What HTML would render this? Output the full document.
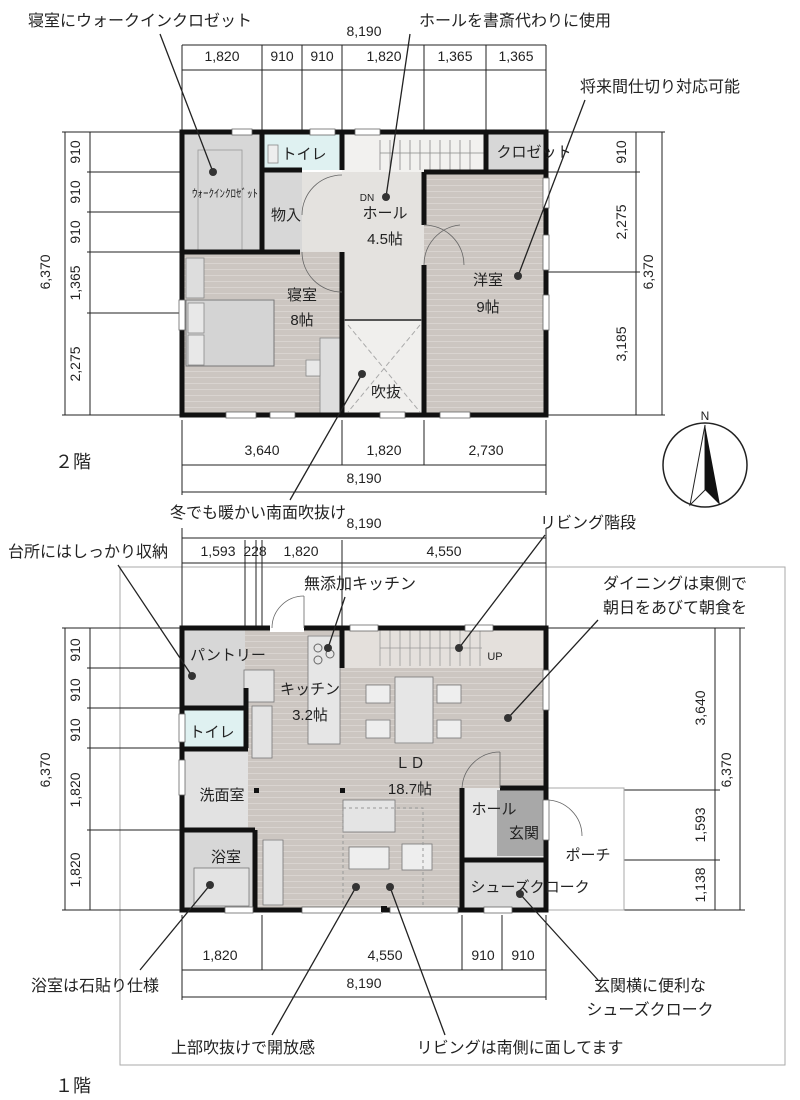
<!DOCTYPE html>
<html><head><meta charset="utf-8"><style>
body{margin:0;background:#fff}
svg{display:block}
text{font-family:"Liberation Sans","Noto Sans CJK JP",sans-serif;fill:#222}
.d{font-size:14px;text-anchor:middle}
.c{font-size:16px;text-anchor:middle}
.r{font-size:15px;text-anchor:middle}
.w{stroke:#111;stroke-width:5;fill:none}
.t{stroke:#222;stroke-width:1;fill:none}
.cl{stroke:#222;stroke-width:1.3}
</style></head><body>
<svg width="800" height="1100" viewBox="0 0 800 1100" xmlns="http://www.w3.org/2000/svg">
<defs>
<pattern id="fl" width="8" height="6" patternUnits="userSpaceOnUse"><rect width="8" height="6" fill="#ccc6c1"/><line x1="0" y1="5.5" x2="8" y2="5.5" stroke="#d9d4d0" stroke-width="1"/></pattern>
</defs>

<g class="t">
<line x1="182" y1="70" x2="546" y2="70"/>
<line x1="182" y1="45" x2="182" y2="130"/><line x1="262" y1="45" x2="262" y2="130"/><line x1="302" y1="45" x2="302" y2="130"/><line x1="342" y1="45" x2="342" y2="130"/><line x1="424" y1="45" x2="424" y2="130"/><line x1="486" y1="45" x2="486" y2="130"/><line x1="546" y1="45" x2="546" y2="130"/>
<line x1="182" y1="45" x2="546" y2="45"/>
<line x1="65" y1="132" x2="65" y2="415"/><line x1="90" y1="132" x2="90" y2="415"/>
<line x1="62" y1="132" x2="180" y2="132"/><line x1="87" y1="172" x2="180" y2="172"/><line x1="87" y1="212" x2="180" y2="212"/><line x1="87" y1="252" x2="180" y2="252"/><line x1="87" y1="313" x2="180" y2="313"/><line x1="62" y1="415" x2="180" y2="415"/>
<line x1="636" y1="132" x2="636" y2="415"/><line x1="662" y1="132" x2="662" y2="415"/>
<line x1="548" y1="132" x2="665" y2="132"/><line x1="548" y1="172" x2="640" y2="172"/><line x1="548" y1="272" x2="640" y2="272"/><line x1="548" y1="415" x2="665" y2="415"/>
<line x1="182" y1="420" x2="182" y2="495"/><line x1="342" y1="420" x2="342" y2="465"/><line x1="424" y1="420" x2="424" y2="465"/><line x1="546" y1="420" x2="546" y2="495"/>
<line x1="182" y1="465" x2="546" y2="465"/><line x1="182" y1="492" x2="546" y2="492"/>
</g>
<text class="d" x="364" y="36">8,190</text>
<text class="d" x="222" y="61">1,820</text><text class="d" x="282" y="61">910</text><text class="d" x="322" y="61">910</text><text class="d" x="384" y="61">1,820</text><text class="d" x="455" y="61">1,365</text><text class="d" x="516" y="61">1,365</text>
<text transform="translate(50,272) rotate(-90)" class="d">6,370</text>
<text transform="translate(80,152) rotate(-90)" class="d">910</text>
<text transform="translate(80,192) rotate(-90)" class="d">910</text>
<text transform="translate(80,232) rotate(-90)" class="d">910</text>
<text transform="translate(80,283) rotate(-90)" class="d">1,365</text>
<text transform="translate(80,364) rotate(-90)" class="d">2,275</text>
<text transform="translate(626,152) rotate(-90)" class="d">910</text>
<text transform="translate(626,222) rotate(-90)" class="d">2,275</text>
<text transform="translate(653,272) rotate(-90)" class="d">6,370</text>
<text transform="translate(626,344) rotate(-90)" class="d">3,185</text>
<text class="d" x="262" y="455">3,640</text><text class="d" x="384" y="455">1,820</text><text class="d" x="486" y="455">2,730</text>
<text class="d" x="364" y="483">8,190</text>

<rect x="182" y="132" width="80" height="120" fill="#d7d7d7"/>
<rect x="198" y="150" width="44" height="100" fill="none" stroke="#999" stroke-width="0.8"/>
<rect x="262" y="132" width="80" height="38" fill="#dff1f1"/>
<rect x="262" y="170" width="40" height="82" fill="#d7d7d7"/>
<rect x="342" y="132" width="144" height="40" fill="#f2f1ef"/>
<g stroke="#888" stroke-width="0.8"><line x1="380" y1="140" x2="380" y2="170"/><line x1="390" y1="140" x2="390" y2="170"/><line x1="400" y1="140" x2="400" y2="170"/><line x1="410" y1="140" x2="410" y2="170"/><line x1="420" y1="140" x2="420" y2="170"/><line x1="430" y1="140" x2="430" y2="170"/><line x1="440" y1="140" x2="440" y2="170"/><line x1="450" y1="140" x2="450" y2="170"/><line x1="460" y1="140" x2="460" y2="170"/><line x1="470" y1="140" x2="470" y2="170"/><line x1="380" y1="153" x2="484" y2="153"/></g>
<rect x="486" y="132" width="60" height="40" fill="#d7d7d7"/>
<rect x="302" y="172" width="122" height="148" fill="#e4e2df"/>
<rect x="182" y="252" width="160" height="163" fill="url(#fl)"/>
<rect x="424" y="172" width="122" height="243" fill="url(#fl)"/>
<rect x="342" y="320" width="82" height="95" fill="#f0efed"/>
<line x1="348" y1="325" x2="420" y2="412" stroke="#aaa" stroke-dasharray="5,3"/><line x1="420" y1="325" x2="348" y2="412" stroke="#aaa" stroke-dasharray="5,3"/>
<rect x="186" y="300" width="88" height="66" fill="#d4d4d4" stroke="#777" stroke-width="1"/>
<rect x="188" y="303" width="16" height="30" fill="#e8e8e8" stroke="#888" stroke-width="0.8"/><rect x="188" y="335" width="16" height="30" fill="#e8e8e8" stroke="#888" stroke-width="0.8"/>
<rect x="186" y="258" width="18" height="40" fill="#ddd" stroke="#888" stroke-width="0.8"/>
<rect x="320" y="338" width="20" height="75" fill="#ddd" stroke="#888" stroke-width="0.8"/>
<rect x="306" y="360" width="14" height="16" fill="#e8e8e8" stroke="#888" stroke-width="0.8"/>
<rect x="268" y="145" width="10" height="18" fill="#eee" stroke="#888" stroke-width="0.8"/>
<rect x="182" y="132" width="364" height="283" class="w"/>
<g class="w">
<line x1="262" y1="132" x2="262" y2="252"/><line x1="182" y1="252" x2="300" y2="252"/><line x1="262" y1="170" x2="302" y2="170"/>
<line x1="342" y1="132" x2="342" y2="170"/><line x1="342" y1="252" x2="342" y2="415"/>
<line x1="424" y1="172" x2="424" y2="225"/><line x1="424" y1="265" x2="424" y2="415"/>
<line x1="486" y1="132" x2="486" y2="172"/><line x1="424" y1="172" x2="546" y2="172"/>
</g>
<line x1="344" y1="320" x2="422" y2="320" stroke="#555" stroke-width="2"/>
<g fill="#fff" stroke="#666" stroke-width="0.8">
<rect x="232" y="129" width="20" height="6"/><rect x="310" y="129" width="25" height="6"/><rect x="355" y="129" width="25" height="6"/>
<rect x="543" y="178" width="6" height="30"/><rect x="543" y="235" width="6" height="35"/><rect x="543" y="295" width="6" height="35"/>
<rect x="179" y="300" width="6" height="30"/><rect x="226" y="412" width="30" height="6"/><rect x="270" y="412" width="25" height="6"/><rect x="380" y="412" width="25" height="6"/><rect x="440" y="412" width="30" height="6"/>
</g>
<g fill="none" stroke="#666" stroke-width="0.8">
<path d="M424 225 A40 40 0 0 1 464 265"/><path d="M424 265 A40 40 0 0 1 460 225"/><path d="M302 252 A40 40 0 0 0 342 292"/><path d="M302 215 A40 40 0 0 1 342 175"/>
</g>
<text x="225" y="197" style="font-size:11px;text-anchor:middle">ｳｫｰｸｲﾝｸﾛｾﾞｯﾄ</text>
<text class="r" x="304" y="159">トイレ</text>
<text class="r" x="286" y="220">物入</text>
<text x="367" y="201" style="font-size:10px;text-anchor:middle">DN</text>
<text class="r" x="385" y="218">ホール</text>
<text class="r" x="385" y="244">4.5帖</text>
<text class="r" x="534" y="157">クロゼット</text>
<text class="r" x="302" y="300">寝室</text><text class="r" x="302" y="325">8帖</text>
<text class="r" x="488" y="285">洋室</text><text class="r" x="488" y="312">9帖</text>
<text class="r" x="386" y="397">吹抜</text>
<text x="55" y="468" style="font-size:18px">２階</text>

<circle cx="705" cy="465" r="42" fill="#fff" stroke="#222" stroke-width="1.5"/>
<path d="M705 425 L690 505 L705 490 Z" fill="#fff" stroke="#222"/>
<path d="M705 425 L720 505 L705 490 Z" fill="#111"/>
<text x="705" y="420" style="font-size:12px;text-anchor:middle">N</text>

<text class="c" x="140" y="26">寝室にウォークインクロゼット</text>
<line class="cl" x1="160" y1="34" x2="213" y2="172"/><circle cx="213" cy="172" r="4" fill="#333"/>
<text class="c" x="515" y="26">ホールを書斎代わりに使用</text>
<line class="cl" x1="410" y1="34" x2="386" y2="197"/><circle cx="386" cy="197" r="4" fill="#333"/>
<text class="c" x="660" y="92">将来間仕切り対応可能</text>
<line class="cl" x1="585" y1="100" x2="518" y2="276"/><circle cx="518" cy="276" r="4" fill="#333"/>
<text class="c" x="258" y="518">冬でも暖かい南面吹抜け</text>
<line class="cl" x1="290" y1="500" x2="362" y2="374"/><circle cx="362" cy="374" r="4" fill="#333"/>

<rect x="120" y="567" width="665" height="498" fill="none" stroke="#aaa" stroke-width="1"/>
<g class="t">
<line x1="182" y1="538" x2="546" y2="538"/><line x1="182" y1="563" x2="546" y2="563"/>
<line x1="182" y1="528" x2="182" y2="626"/><line x1="245" y1="540" x2="245" y2="626"/><line x1="256" y1="540" x2="256" y2="626"/><line x1="262" y1="540" x2="262" y2="626"/><line x1="342" y1="540" x2="342" y2="626"/><line x1="546" y1="528" x2="546" y2="626"/>
<line x1="65" y1="628" x2="65" y2="910"/><line x1="90" y1="628" x2="90" y2="910"/>
<line x1="62" y1="628" x2="180" y2="628"/><line x1="87" y1="668" x2="180" y2="668"/><line x1="87" y1="708" x2="180" y2="708"/><line x1="87" y1="748" x2="180" y2="748"/><line x1="87" y1="830" x2="180" y2="830"/><line x1="62" y1="910" x2="180" y2="910"/>
<line x1="715" y1="628" x2="715" y2="910"/><line x1="740" y1="628" x2="740" y2="910"/>
<line x1="548" y1="628" x2="745" y2="628"/><line x1="624" y1="790" x2="720" y2="790"/><line x1="624" y1="860" x2="720" y2="860"/><line x1="624" y1="910" x2="745" y2="910"/>
<line x1="182" y1="915" x2="182" y2="1000"/><line x1="262" y1="915" x2="262" y2="970"/><line x1="462" y1="915" x2="462" y2="970"/><line x1="502" y1="915" x2="502" y2="970"/><line x1="546" y1="915" x2="546" y2="1000"/>
<line x1="182" y1="970" x2="546" y2="970"/><line x1="182" y1="997" x2="546" y2="997"/>
</g>
<text class="d" x="364" y="528">8,190</text>
<text class="d" x="218" y="556">1,593</text><text class="d" x="255" y="556">228</text><text class="d" x="301" y="556">1,820</text><text class="d" x="444" y="556">4,550</text>
<text transform="translate(50,770) rotate(-90)" class="d">6,370</text>
<text transform="translate(80,650) rotate(-90)" class="d">910</text>
<text transform="translate(80,690) rotate(-90)" class="d">910</text>
<text transform="translate(80,730) rotate(-90)" class="d">910</text>
<text transform="translate(80,790) rotate(-90)" class="d">1,820</text>
<text transform="translate(80,870) rotate(-90)" class="d">1,820</text>
<text transform="translate(705,708) rotate(-90)" class="d">3,640</text>
<text transform="translate(731,770) rotate(-90)" class="d">6,370</text>
<text transform="translate(705,825) rotate(-90)" class="d">1,593</text>
<text transform="translate(705,885) rotate(-90)" class="d">1,138</text>
<text class="d" x="220" y="960">1,820</text><text class="d" x="385" y="960">4,550</text><text class="d" x="483" y="960">910</text><text class="d" x="523" y="960">910</text>
<text class="d" x="364" y="988">8,190</text>

<rect x="546" y="788" width="78" height="122" fill="#fff" stroke="#aaa" stroke-width="1"/>
<rect x="182" y="628" width="364" height="282" fill="url(#fl)"/>
<rect x="182" y="628" width="63" height="80" fill="#d7d7d7"/>
<rect x="182" y="710" width="66" height="38" fill="#dff1f1"/>
<rect x="182" y="750" width="66" height="80" fill="#e2e2e2"/>
<rect x="182" y="832" width="73" height="78" fill="#d7d7d7"/>
<rect x="194" y="868" width="55" height="38" fill="#e3e3e3" stroke="#777" stroke-width="0.8"/>
<rect x="342" y="628" width="204" height="40" fill="#e4e0dc"/>
<g stroke="#999" stroke-width="0.8"><line x1="380" y1="630" x2="380" y2="666"/><line x1="390" y1="630" x2="390" y2="666"/><line x1="400" y1="630" x2="400" y2="666"/><line x1="410" y1="630" x2="410" y2="666"/><line x1="420" y1="630" x2="420" y2="666"/><line x1="430" y1="630" x2="430" y2="666"/><line x1="440" y1="630" x2="440" y2="666"/><line x1="450" y1="630" x2="450" y2="666"/><line x1="460" y1="630" x2="460" y2="666"/><line x1="470" y1="630" x2="470" y2="666"/><line x1="480" y1="630" x2="480" y2="666"/><line x1="380" y1="648" x2="482" y2="648"/></g>
<rect x="308" y="636" width="32" height="108" fill="#e6e6e6" stroke="#777" stroke-width="0.8"/>
<circle cx="318" cy="648" r="4" fill="none" stroke="#666"/><circle cx="318" cy="660" r="4" fill="none" stroke="#666"/><circle cx="330" cy="654" r="4" fill="none" stroke="#666"/>
<rect x="244" y="670" width="30" height="32" fill="#e3e3e3" stroke="#777" stroke-width="0.8"/>
<rect x="252" y="706" width="20" height="52" fill="#e3e3e3" stroke="#777" stroke-width="0.8"/>
<rect x="395" y="677" width="38" height="66" fill="#e6e6e6" stroke="#777" stroke-width="0.8"/>
<rect x="366" y="685" width="24" height="18" fill="#eee" stroke="#777" stroke-width="0.8"/><rect x="366" y="720" width="24" height="18" fill="#eee" stroke="#777" stroke-width="0.8"/>
<rect x="437" y="685" width="24" height="18" fill="#eee" stroke="#777" stroke-width="0.8"/><rect x="437" y="720" width="24" height="18" fill="#eee" stroke="#777" stroke-width="0.8"/>
<rect x="343" y="800" width="52" height="32" fill="#e4e4e4" stroke="#777" stroke-width="0.8"/>
<rect x="349" y="847" width="40" height="22" fill="#eee" stroke="#777" stroke-width="0.8"/>
<rect x="402" y="844" width="30" height="26" fill="#eee" stroke="#777" stroke-width="0.8"/>
<rect x="263" y="840" width="20" height="65" fill="#e3e3e3" stroke="#777" stroke-width="0.8"/>
<rect x="343" y="808" width="80" height="100" fill="none" stroke="#999" stroke-dasharray="3,3"/>
<rect x="462" y="788" width="84" height="70" fill="#e6e6e6"/>
<rect x="497" y="790" width="49" height="66" fill="#a8a8a8"/>
<rect x="462" y="860" width="84" height="50" fill="#dadada"/>
<rect x="182" y="628" width="364" height="282" class="w"/>
<g class="w">
<line x1="182" y1="708" x2="248" y2="708"/><line x1="246" y1="688" x2="246" y2="748"/>
<line x1="182" y1="749" x2="248" y2="749"/><line x1="182" y1="830" x2="255" y2="830"/><line x1="255" y1="830" x2="255" y2="910"/>
<line x1="342" y1="628" x2="342" y2="668"/>
<line x1="462" y1="788" x2="462" y2="910"/><line x1="500" y1="788" x2="546" y2="788"/><line x1="462" y1="860" x2="546" y2="860"/>
</g>
<rect x="270" y="622" width="34" height="10" fill="#fff"/>
<path d="M272 628 A32 32 0 0 1 304 596" fill="none" stroke="#666" stroke-width="0.8"/><line x1="304" y1="596" x2="304" y2="628" stroke="#666" stroke-width="0.8"/>
<path d="M462 788 A38 38 0 0 1 500 752" fill="none" stroke="#666" stroke-width="0.8"/><line x1="500" y1="752" x2="500" y2="788" stroke="#666" stroke-width="0.8"/>
<path d="M546 800 A36 36 0 0 1 582 836" fill="none" stroke="#666" stroke-width="0.8"/>
<g fill="#fff" stroke="#666" stroke-width="0.8">
<rect x="350" y="625" width="28" height="6"/><rect x="465" y="625" width="28" height="6"/>
<rect x="543" y="670" width="6" height="40"/><rect x="543" y="800" width="6" height="40"/>
<rect x="179" y="714" width="6" height="28"/><rect x="179" y="760" width="6" height="35"/>
<rect x="225" y="907" width="28" height="6"/><rect x="302" y="907" width="80" height="6"/><rect x="390" y="907" width="68" height="6"/><rect x="484" y="907" width="28" height="6"/>
</g>
<rect x="254" y="788" width="5" height="5" fill="#111"/><rect x="340" y="788" width="5" height="5" fill="#111"/><rect x="381" y="906" width="6" height="6" fill="#111"/>
<text class="r" x="228" y="660">パントリー</text>
<text class="r" x="212" y="737">トイレ</text>
<text class="r" x="222" y="800">洗面室</text>
<text class="r" x="226" y="862">浴室</text>
<text class="r" x="310" y="694">キッチン</text>
<text class="r" x="310" y="720">3.2帖</text>
<text x="495" y="660" style="font-size:11px;text-anchor:middle">UP</text>
<text class="r" x="410" y="768">ＬＤ</text>
<text class="r" x="410" y="794">18.7帖</text>
<text class="r" x="494" y="814">ホール</text>
<text class="r" x="524" y="838">玄関</text>
<text class="r" x="588" y="860">ポーチ</text>
<text class="r" x="530" y="892">シューズクローク</text>
<text x="55" y="1092" style="font-size:18px">１階</text>

<text class="c" x="88" y="557">台所にはしっかり収納</text>
<line class="cl" x1="118" y1="565" x2="192" y2="676"/><circle cx="192" cy="676" r="4" fill="#333"/>
<text class="c" x="360" y="589">無添加キッチン</text>
<line class="cl" x1="345" y1="597" x2="328" y2="648"/><circle cx="328" cy="648" r="4" fill="#333"/>
<text class="c" x="588" y="528">リビング階段</text>
<line class="cl" x1="545" y1="535" x2="459" y2="648"/><circle cx="459" cy="648" r="4" fill="#333"/>
<text class="c" x="675" y="589">ダイニングは東側で</text>
<text class="c" x="675" y="613">朝日をあびて朝食を</text>
<line class="cl" x1="598" y1="620" x2="508" y2="718"/><circle cx="508" cy="718" r="4" fill="#333"/>
<text class="c" x="95" y="991">浴室は石貼り仕様</text>
<line class="cl" x1="140" y1="970" x2="210" y2="885"/><circle cx="210" cy="885" r="4" fill="#333"/>
<text class="c" x="243" y="1053">上部吹抜けで開放感</text>
<line class="cl" x1="272" y1="1035" x2="356" y2="887"/><circle cx="356" cy="887" r="4" fill="#333"/>
<text class="c" x="520" y="1053">リビングは南側に面してます</text>
<line class="cl" x1="445" y1="1035" x2="390" y2="887"/><circle cx="390" cy="887" r="4" fill="#333"/>
<text class="c" x="650" y="991">玄関横に便利な</text>
<text class="c" x="650" y="1015">シューズクローク</text>
<line class="cl" x1="598" y1="980" x2="520" y2="894"/><circle cx="520" cy="894" r="4" fill="#333"/>
</svg>
</body></html>
